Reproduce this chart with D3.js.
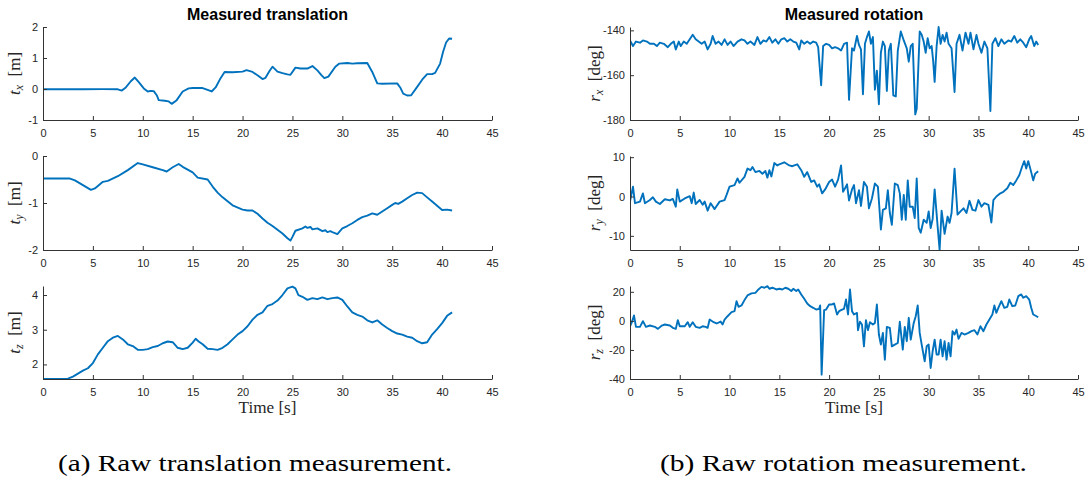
<!DOCTYPE html>
<html>
<head>
<meta charset="utf-8">
<script src="https://cdn.jsdelivr.net/npm/d3@7"></script>
<style>
body { margin: 0; background: #fff; }
svg text { font-family: "Liberation Sans", Arial, Helvetica, sans-serif; }
.tick text { font-size: 11px; fill: #262626; }
.domain, .tick line { stroke: #333; }
.tex { font-family: "Liberation Serif", "Times New Roman", serif; fill: #262626; }
</style>
</head>
<body>
<svg id="fig" width="1088" height="482"></svg>
<script>
// time axis
const timeTicks = [0, 5, 10, 15, 20, 25, 30, 35, 40, 45];

// translation [m]  -- [time, value]
const tx = [[0,-0.01],[2,-0.01],[4,-0.01],[6,-0.005],[7.5,-0.01],[7.9,-0.05],[8.3,0.05],[8.8,0.25],[9.2,0.37],[9.6,0.22],[10.1,0.02],[10.5,-0.08],[10.8,-0.06],[11.1,-0.07],[11.4,-0.2],[11.6,-0.36],[12.2,-0.38],[12.6,-0.40],[12.9,-0.48],[13.4,-0.36],[14.0,-0.08],[14.6,0.02],[15.0,0.03],[16.0,0.03],[16.5,-0.03],[16.9,-0.08],[17.3,0.05],[17.8,0.35],[18.2,0.55],[19,0.54],[20,0.56],[20.4,0.61],[21,0.55],[21.6,0.42],[22,0.32],[22.3,0.36],[22.7,0.58],[23,0.72],[23.5,0.56],[24,0.51],[24.5,0.47],[24.8,0.46],[25.3,0.69],[25.8,0.66],[26.5,0.66],[27,0.74],[27.5,0.6],[27.9,0.45],[28.2,0.35],[28.6,0.4],[29.3,0.72],[29.7,0.82],[30.5,0.84],[31,0.82],[31.5,0.83],[32.5,0.84],[33,0.55],[33.5,0.18],[34,0.17],[35.5,0.18],[35.8,0.05],[36.1,-0.15],[36.5,-0.21],[36.9,-0.2],[37.5,0.07],[38,0.3],[38.5,0.48],[39,0.48],[39.3,0.52],[39.8,0.82],[40.1,1.2],[40.4,1.5],[40.7,1.63],[41,1.62]];

const ty = [[0,-0.48],[1,-0.48],[2.7,-0.48],[3.2,-0.52],[4,-0.62],[4.8,-0.72],[5.2,-0.69],[6,-0.55],[6.5,-0.53],[7.5,-0.43],[8.5,-0.30],[9.5,-0.15],[10,-0.18],[11,-0.24],[12,-0.30],[12.4,-0.33],[13,-0.24],[13.6,-0.17],[14,-0.23],[15,-0.35],[15.5,-0.46],[16.5,-0.5],[17,-0.65],[17.5,-0.78],[18,-0.88],[19,-1.05],[20,-1.14],[20.5,-1.16],[21,-1.16],[21.5,-1.23],[22,-1.33],[22.5,-1.42],[23,-1.49],[24,-1.65],[24.5,-1.75],[24.8,-1.80],[25,-1.72],[25.3,-1.59],[26,-1.54],[26.3,-1.50],[26.5,-1.53],[26.8,-1.51],[27,-1.56],[27.5,-1.54],[28,-1.60],[28.3,-1.58],[28.5,-1.62],[28.8,-1.60],[29,-1.62],[29.5,-1.66],[30,-1.54],[30.5,-1.49],[31,-1.43],[31.5,-1.36],[32,-1.30],[32.5,-1.27],[33,-1.22],[33.5,-1.25],[34,-1.18],[34.5,-1.11],[35,-1.04],[35.3,-1.0],[35.6,-1.02],[36,-0.97],[36.5,-0.90],[37,-0.83],[37.5,-0.78],[38,-0.79],[38.5,-0.88],[39,-0.97],[39.5,-1.06],[40,-1.15],[40.5,-1.14],[41,-1.16]];

const tz = [[0,1.58],[1,1.58],[2.5,1.59],[3,1.65],[4,1.82],[4.5,1.89],[5,2.04],[5.5,2.29],[6,2.48],[6.5,2.67],[7,2.77],[7.5,2.82],[8,2.72],[8.5,2.58],[9,2.53],[9.5,2.42],[10,2.42],[10.5,2.44],[11,2.50],[11.5,2.53],[12,2.61],[12.5,2.66],[13,2.64],[13.5,2.48],[14,2.44],[14.5,2.48],[15,2.63],[15.3,2.74],[15.6,2.66],[16,2.58],[16.5,2.45],[17,2.44],[17.5,2.42],[18,2.48],[18.5,2.58],[19,2.72],[19.5,2.86],[20,2.96],[20.5,3.10],[21,3.29],[21.5,3.43],[22,3.50],[22.5,3.69],[23,3.74],[23.5,3.84],[24,4.0],[24.5,4.19],[25,4.24],[25.3,4.19],[25.6,4.0],[26,3.95],[26.5,3.86],[27,3.91],[27.5,3.88],[28,3.93],[28.5,3.88],[29,3.91],[29.5,3.93],[30,3.86],[30.5,3.67],[31,3.50],[31.5,3.43],[32,3.38],[32.5,3.27],[33,3.21],[33.5,3.27],[34,3.15],[34.5,3.05],[35,2.96],[35.5,2.89],[36,2.86],[36.5,2.80],[37,2.77],[37.5,2.67],[38,2.61],[38.5,2.64],[39,2.86],[39.5,3.02],[40,3.19],[40.5,3.40],[41,3.50]];

// rotation [deg]
const rx = [[0,-144.5],[0.3,-147],[0.6,-145],[1,-145.5],[1.3,-144.5],[1.7,-145],[2,-146],[2.4,-146],[2.7,-147],[3,-145.5],[3.4,-146],[3.8,-147.5],[4.1,-146],[4.4,-145],[4.6,-148.5],[4.9,-145],[5.1,-147],[5.4,-145],[5.7,-146],[6,-144],[6.3,-142],[6.6,-144],[6.9,-145],[7.2,-146],[7.5,-145],[7.8,-148.5],[8.1,-146],[8.3,-142.5],[8.6,-146],[8.9,-145],[9.2,-146.5],[9.5,-144],[9.8,-146.5],[10.1,-145],[10.4,-147],[10.8,-145],[11.2,-144],[11.5,-144.5],[11.8,-146],[12.1,-145],[12.5,-146.5],[12.8,-143],[13.1,-146],[13.4,-144.5],[13.7,-145],[14,-143],[14.3,-145.5],[14.6,-144],[14.9,-146],[15.2,-144],[15.5,-143.5],[15.8,-145],[16.1,-144],[16.4,-145],[16.7,-145.5],[17.0,-148.5],[17.2,-144.5],[17.5,-146],[17.8,-145],[18.1,-146],[18.4,-145],[18.7,-145.5],[18.9,-147.5],[19.2,-164.5],[19.4,-147],[19.7,-146],[20,-146.5],[20.3,-148],[20.6,-147.5],[20.9,-148],[21.2,-149],[21.5,-146],[21.8,-145.5],[22.0,-171],[22.3,-148],[22.5,-149],[22.8,-142.5],[23.0,-146.5],[23.2,-148.5],[23.4,-168.5],[23.6,-146],[23.8,-143],[24.0,-140.5],[24.2,-146],[24.4,-143],[24.6,-166.5],[24.8,-158],[25.0,-173],[25.2,-150],[25.4,-145],[25.6,-147],[25.8,-167],[26.0,-149],[26.2,-146],[26.45,-169],[26.7,-169.5],[26.9,-149],[27.2,-140.5],[27.5,-144.5],[27.8,-148],[28.0,-154],[28.2,-147],[28.4,-146],[28.65,-177.5],[28.8,-175],[29.1,-140.5],[29.3,-142],[29.5,-145],[29.7,-150],[29.9,-143.5],[30.1,-148],[30.3,-147],[30.45,-153.5],[30.6,-163],[30.8,-147],[31.0,-138.5],[31.2,-146],[31.4,-142],[31.6,-145],[31.8,-141],[32.0,-146],[32.3,-148],[32.6,-167.5],[32.8,-146],[33.1,-142],[33.4,-149],[33.7,-141],[34.0,-146],[34.2,-141],[34.5,-148.5],[34.8,-142],[35.0,-146],[35.3,-150],[35.6,-145],[35.9,-148],[36.2,-176],[36.4,-146],[36.7,-143.5],[37.0,-147],[37.3,-144],[37.6,-146],[38,-144.5],[38.3,-145],[38.6,-142.5],[38.9,-145.5],[39.2,-144],[39.5,-145.5],[39.8,-147.5],[40.1,-144],[40.3,-142.5],[40.6,-147],[40.8,-145],[41.0,-146.5]];

const ry = [[0,-1.3],[0.3,2.5],[0.5,-1.7],[1,-1.3],[1.3,0.8],[1.5,-1.7],[2,-0.9],[2.3,-0.2],[2.6,-1.3],[3,-1.9],[3.5,-0.7],[4,-1.0],[4.3,-0.6],[4.6,-2.6],[4.75,1.8],[5,-1.3],[5.5,-0.5],[6,0.1],[6.2,-1.7],[6.4,1.0],[6.6,-1.9],[7,-0.9],[7.3,-2.1],[7.5,-1.3],[7.8,-3.6],[8.1,-1.7],[8.5,-3.2],[9,-1.3],[9.5,-0.9],[9.7,0.4],[10,2.5],[10.5,2.9],[10.8,4.6],[11,3.5],[11.5,5.0],[11.8,7.1],[12.1,6.7],[12.3,7.5],[12.6,6.2],[13,6.5],[13.3,5.8],[13.6,6.5],[13.8,4.8],[14,6.7],[14.2,5.1],[14.5,8.5],[14.8,7.9],[15,8.2],[15.5,8.7],[16,7.9],[16.3,7.7],[16.8,8.2],[17.2,6.7],[17.5,5.0],[17.8,6.2],[18.2,3.7],[18.5,4.1],[18.8,2.5],[19,3.1],[19.3,0.8],[19.6,1.8],[20,3.7],[20.3,4.3],[20.6,2.5],[20.9,4.3],[21.2,7.9],[21.4,1.2],[21.6,2.1],[21.8,3.1],[22,-1.0],[22.3,1.8],[22.5,2.9],[22.7,-1.7],[23,1.6],[23.2,-2.4],[23.5,3.7],[23.8,2.5],[24,-3.0],[24.3,-0.5],[24.6,3.3],[24.9,2.5],[25.2,-8.4],[25.4,-3.4],[25.7,-3.0],[25.9,1.6],[26.1,-4.2],[26.3,-7.2],[26.6,3.3],[26.9,2.9],[27.1,0.8],[27.3,-5.9],[27.5,0.4],[27.7,-5.9],[27.9,4.1],[28.1,-2.6],[28.4,-2.6],[28.6,-5.5],[28.8,4.6],[29,-8.0],[29.2,-9.2],[29.5,-5.9],[29.8,-6.7],[30,-3.8],[30.2,-8.0],[30.4,-5.7],[30.6,1.8],[30.9,-7.6],[31.1,-13.6],[31.3,-3.6],[31.6,-9.5],[31.9,-5.1],[32.1,-6.7],[32.3,-4.2],[32.6,7.1],[32.9,-4.6],[33.2,-3.8],[33.5,-3.0],[33.8,-4.2],[34.1,-1.1],[34.4,-3.4],[34.7,-3.6],[35,-0.9],[35.3,-2.6],[35.6,-1.7],[36,-2.1],[36.3,-6.6],[36.5,-0.9],[36.8,0.0],[37.2,0.8],[37.5,1.2],[37.9,2.1],[38.2,3.5],[38.5,2.9],[38.8,4.1],[39.1,5.4],[39.4,7.7],[39.6,9.0],[39.8,7.1],[40,9.0],[40.3,6.2],[40.5,4.1],[40.7,5.8],[41,6.4]];

const rz = [[0,-3.7],[0.2,-0.6],[0.4,3.7],[0.6,-4.1],[1,-4.1],[1.3,-0.2],[1.6,-4.1],[2,-3.2],[2.5,-4.1],[2.8,-5.5],[3.2,-3.2],[3.5,-2.5],[4,-3.2],[4.3,-4.8],[4.6,-5.5],[4.8,0.5],[5,-3.7],[5.5,-3.7],[5.8,-0.9],[6,-4.1],[6.3,-0.9],[6.6,-4.1],[7,-4.8],[7.3,-3.7],[7.6,-4.1],[7.8,-4.8],[8,0.9],[8.4,-0.9],[8.7,-1.8],[9.1,-0.5],[9.3,-2.5],[9.5,0.9],[9.8,3.2],[10.2,6.0],[10.5,6.7],[10.7,13.6],[10.9,9.7],[11.2,10.6],[11.5,14.3],[11.8,17.5],[12.2,18.9],[12.6,19.3],[12.9,21.6],[13.2,23.4],[13.5,22.8],[13.8,23.9],[14,22.1],[14.3,22.8],[14.7,21.6],[15,22.1],[15.3,21.6],[15.6,22.8],[15.9,22.1],[16.2,20.5],[16.4,22.1],[16.7,20.5],[16.9,21.6],[17.2,18.2],[17.5,15.2],[17.8,12.0],[18.1,10.1],[18.4,9.0],[18.7,7.8],[19,8.3],[19.1,10.6],[19.25,-37],[19.5,7.4],[19.7,7.8],[20,11.3],[20.3,11.3],[20.5,12.0],[20.8,4.4],[21,6.7],[21.3,7.8],[21.5,8.3],[21.7,14.7],[21.9,4.4],[22.1,21.6],[22.3,6.7],[22.5,4.4],[22.8,5.5],[22.9,-6.4],[23.1,-0.6],[23.3,-2.5],[23.5,-17.5],[23.7,0.5],[23.9,-6.4],[24.1,-0.9],[24.4,-2.5],[24.6,-1.4],[24.8,11.3],[25,-9.4],[25.2,-16.3],[25.4,-8.3],[25.6,-26.7],[25.8,-4.1],[26.1,-4.8],[26.3,-17.5],[26.6,-16.3],[26.9,-15.2],[27.1,-0.6],[27.4,-19.8],[27.6,-4.1],[27.8,-14.0],[28,2.1],[28.2,-12.9],[28.5,-1.4],[28.7,3.2],[28.9,10.6],[29.1,-8.3],[29.3,-16.3],[29.6,-27.8],[29.8,-17.5],[30,-16.3],[30.2,-32.4],[30.4,-20.9],[30.6,-12.9],[30.8,-23.2],[31,-23.2],[31.2,-12.9],[31.4,-24.4],[31.6,-14.0],[31.8,-26.7],[32,-15.2],[32.2,-24.4],[32.4,-7.1],[32.6,-9.4],[32.8,-6.0],[33,-12.4],[33.3,-8.3],[33.6,-9.4],[34,-8.3],[34.3,-7.1],[34.6,-6.4],[34.9,-9.4],[35.2,-3.7],[35.5,-7.1],[35.8,-2.5],[36.1,0.9],[36.4,4.4],[36.6,10.6],[36.8,5.5],[37,9.0],[37.3,13.6],[37.6,9.0],[37.9,9.7],[38.1,14.7],[38.4,10.1],[38.7,10.6],[39,17.0],[39.3,18.2],[39.5,15.9],[39.8,17.0],[40.1,14.7],[40.3,9.0],[40.5,4.4],[40.7,3.7],[41,2.5]];

// y ranges / ticks per panel
const txTicks = [-1, 0, 1, 2],   txDomain = [-1, 2];
const tyTicks = [-2, -1, 0],     tyDomain = [-2, 0];
const tzTicks = [2, 3, 4],       tzDomain = [1.58, 4.26];
const rxTicks = [-180, -160, -140], rxDomain = [-180, -138.5];
const ryTicks = [-10, 0, 10],    ryDomain = [-13.6, 10.3];
const rzTicks = [-40, -20, 0, 20], rzDomain = [-40, 24];

const titles = ["Measured translation", "Measured rotation"];
const captions = ["(a) Raw translation measurement.", "(b) Raw rotation measurement."];

const svg = d3.select("#fig");

const colX = [[43, 492], [630, 1078]];
const rowY = [[27, 120], [156, 250], [286, 379]];
const ylabX = [20, 600];

const panels = [
    { data: tx, dom: txDomain, ticks: txTicks, sym: "t", sub: "x", unit: "[m]", col: 0, row: 0 },
    { data: ty, dom: tyDomain, ticks: tyTicks, sym: "t", sub: "y", unit: "[m]", col: 0, row: 1 },
    { data: tz, dom: tzDomain, ticks: tzTicks, sym: "t", sub: "z", unit: "[m]", col: 0, row: 2 },
    { data: rx, dom: rxDomain, ticks: rxTicks, sym: "r", sub: "x", unit: "[deg]", col: 1, row: 0 },
    { data: ry, dom: ryDomain, ticks: ryTicks, sym: "r", sub: "y", unit: "[deg]", col: 1, row: 1 },
    { data: rz, dom: rzDomain, ticks: rzTicks, sym: "r", sub: "z", unit: "[deg]", col: 1, row: 2 }
];

panels.forEach((p, i) => {
    const [x0, x1] = colX[p.col];
    const [y0, y1] = rowY[p.row];
    const x = d3.scaleLinear().domain([0, 45]).range([x0, x1]);
    const y = d3.scaleLinear().domain(p.dom).range([y1, y0]);

    svg.append("clipPath").attr("id", "clip" + i)
        .append("rect").attr("x", x0).attr("y", y0 - 1).attr("width", x1 - x0).attr("height", y1 - y0 + 2);

    svg.append("path")
        .datum(p.data)
        .attr("clip-path", `url(#clip${i})`)
        .attr("fill", "none")
        .attr("stroke", "#0072BD")
        .attr("stroke-width", 1.9)
        .attr("stroke-linejoin", "round")
        .attr("d", d3.line().x(d => x(d[0])).y(d => y(d[1])));

    svg.append("g")
        .attr("transform", `translate(0,${y1})`)
        .call(d3.axisBottom(x).tickValues(timeTicks).tickSizeInner(-4).tickSizeOuter(0).tickPadding(9));

    // plain hyphen minus like the original figure
    svg.append("g")
        .attr("transform", `translate(${x0},0)`)
        .call(d3.axisLeft(y).tickValues(p.ticks).tickSizeInner(-4).tickSizeOuter(0).tickPadding(5).tickFormat(d => String(d)));

    // latex-like y label
    const lab = svg.append("text")
        .attr("class", "tex")
        .attr("transform", `translate(${ylabX[p.col]},${(y0 + y1) / 2}) rotate(-90)`)
        .attr("text-anchor", "middle")
        .attr("font-size", 17);
    lab.append("tspan").attr("font-style", "italic").text(p.sym);
    lab.append("tspan").attr("font-style", "italic").attr("font-size", 12).attr("dy", 3).text(p.sub);
    lab.append("tspan").attr("dy", -3).text("\u2002" + p.unit);
});

// titles
titles.forEach((t, c) => {
    svg.append("text")
        .attr("x", (colX[c][0] + colX[c][1]) / 2)
        .attr("y", 20)
        .attr("text-anchor", "middle")
        .attr("font-size", 16)
        .attr("font-weight", "bold")
        .text(t);
});

// x label
[0, 1].forEach(c => {
    svg.append("text")
        .attr("class", "tex")
        .attr("x", (colX[c][0] + colX[c][1]) / 2)
        .attr("y", 413)
        .attr("text-anchor", "middle")
        .attr("font-size", 17)
        .attr("textLength", 58)
        .attr("lengthAdjust", "spacingAndGlyphs")
        .text("Time [s]");
});

// sub-figure captions
const capX = [58, 660], capLen = [394, 367];
captions.forEach((t, c) => {
    svg.append("text")
        .attr("class", "tex")
        .attr("x", capX[c])
        .attr("y", 471)
        .attr("font-size", 23)
        .attr("textLength", capLen[c])
        .attr("lengthAdjust", "spacingAndGlyphs")
        .style("fill", "#000")
        .text(t);
});
</script>
</body>
</html>
